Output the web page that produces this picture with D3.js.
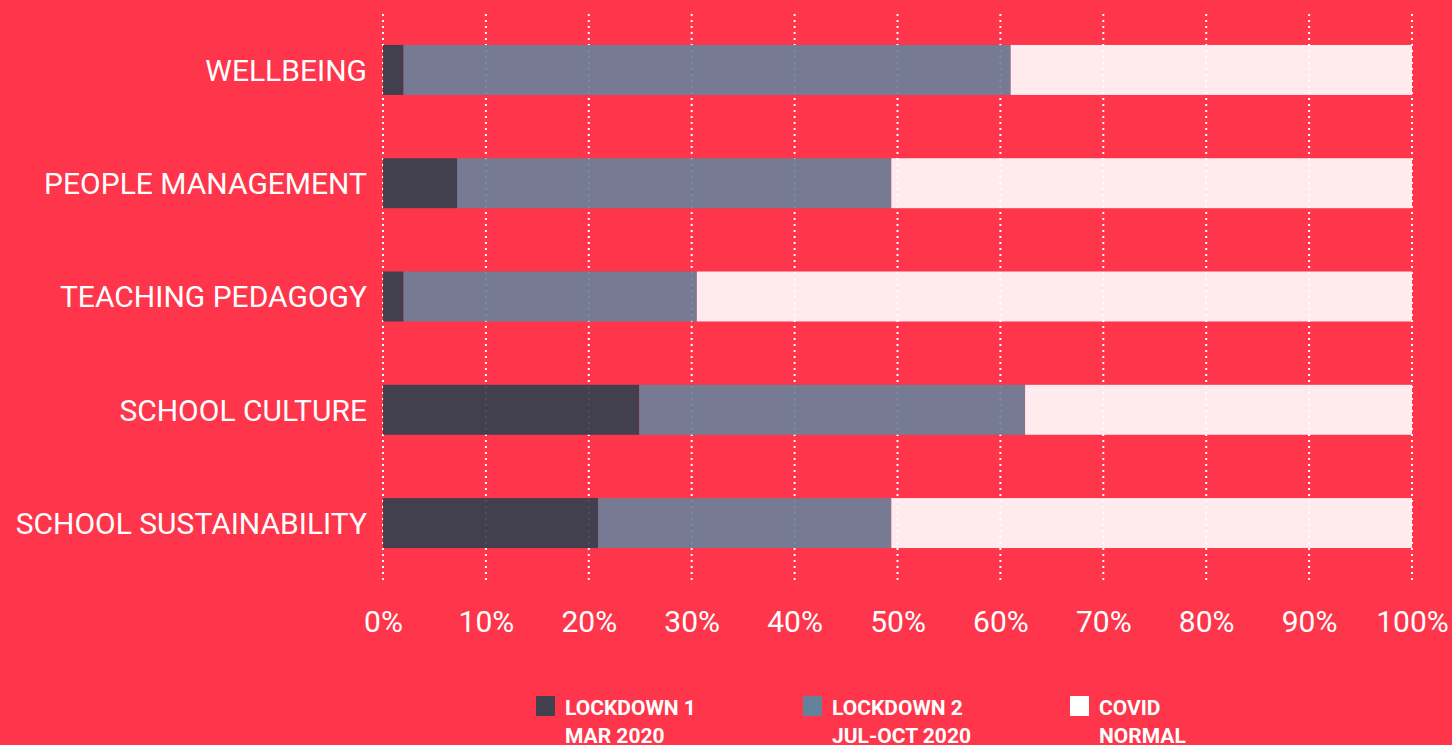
<!DOCTYPE html>
<html>
<head>
<meta charset="utf-8">
<script src="https://cdn.jsdelivr.net/npm/d3@7"></script>
<style>
  html, body { margin: 0; padding: 0; background: #fe354b; }
  svg { display: block; }
  text { font-family: Roboto, "Noto Sans", sans-serif; fill: #fff; }
</style>
</head>
<body>
<div id="chart"></div>
<script>
// Data
const categories = ["WELLBEING", "PEOPLE MANAGEMENT", "TEACHING PEDAGOGY", "SCHOOL CULTURE", "SCHOOL SUSTAINABILITY"];
const lockdown1 = [2, 7.2, 2, 24.9, 20.9];
const lockdown2 = [59, 42.2, 28.5, 37.5, 28.5];
const covidNormal = [39, 50.6, 69.5, 37.6, 50.6];
const seriesNames = ["lockdown1", "lockdown2", "covidNormal"];
const legendLines = [["LOCKDOWN 1", "MAR 2020"], ["LOCKDOWN 2", "JUL-OCT 2020"], ["COVID", "NORMAL"]];
const xTicks = [0, 10, 20, 30, 40, 50, 60, 70, 80, 90, 100];

//Width and height
var w = 1452;
var h = 745;

var barColors = ["#2d4150", "#68829b", "#ffffff"];
var legendColors = ["#41404f", "#64829a", "#ffffff"];

var rows = categories.map((c, i) => ({
    category: c,
    lockdown1: lockdown1[i],
    lockdown2: lockdown2[i],
    covidNormal: covidNormal[i]
}));

var svg = d3.select("#chart")
    .append("svg")
    .attr("width", w)
    .attr("height", h);

var x = d3.scaleLinear()
    .domain([0, 100])
    .range([383, 1412]);

//Bands: first bar top at 45, last bar bottom at 548
var y = d3.scaleBand()
    .domain(categories)
    .range([45 - 63.3 * 0.5, 548 + 63.3 * 0.5])
    .paddingInner(0.559)
    .paddingOuter(0.279);

//Gridlines
svg.append("g")
    .selectAll("line")
    .data(xTicks)
    .join("line")
    .attr("x1", d => x(d))
    .attr("x2", d => x(d))
    .attr("y1", 14)
    .attr("y2", 582)
    .attr("stroke", "#fff")
    .attr("stroke-width", 2)
    .attr("stroke-dasharray", "2,4");

//Stacked bars
var stack = d3.stack().keys(seriesNames)(rows);

svg.append("g")
    .selectAll("g")
    .data(stack)
    .join("g")
    .attr("fill", (d, i) => barColors[i])
    .attr("fill-opacity", 0.9)
    .selectAll("rect")
    .data(d => d)
    .join("rect")
    .attr("x", d => x(d[0]))
    .attr("width", d => x(d[1]) - x(d[0]))
    .attr("y", d => y(d.data.category))
    .attr("height", y.bandwidth());

//Category labels
svg.append("g")
    .selectAll("text")
    .data(categories)
    .join("text")
    .attr("x", 367)
    .attr("y", d => y(d) + y.bandwidth() / 2)
    .attr("dy", "0.36em")
    .attr("text-anchor", "end")
    .style("font-size", "30px")
    .text(d => d);

//X axis labels
var xAxis = svg.append("g")
    .attr("transform", "translate(0,611)")
    .call(d3.axisBottom(x).tickValues(xTicks).tickFormat(d => d + "%").tickSize(0).tickPadding(0));
xAxis.select(".domain").remove();
xAxis.selectAll("text")
    .attr("fill", "#fff")
    .style("font-size", "30px")
    .style("font-family", "Roboto, sans-serif");

//Legend
var legend = svg.append("g")
    .selectAll("g")
    .data(legendLines)
    .join("g")
    .attr("transform", (d, i) => `translate(${536 + i * 267},696)`);

legend.append("rect")
    .attr("width", 19)
    .attr("height", 20)
    .attr("fill", (d, i) => legendColors[i]);

legend.append("text")
    .attr("x", 29)
    .attr("y", 19)
    .style("font-size", "21px")
    .style("font-weight", "bold")
    .text(d => d[0]);

legend.append("text")
    .attr("x", 29)
    .attr("y", 47)
    .style("font-size", "21px")
    .style("font-weight", "bold")
    .text(d => d[1]);
</script>
</body>
</html>
